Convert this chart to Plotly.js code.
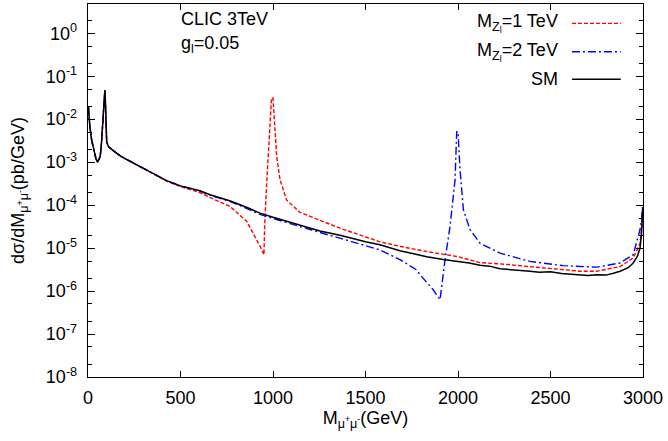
<!DOCTYPE html>
<html>
<head>
<meta charset="utf-8">
<script src="https://cdn.plot.ly/plotly-3.0.1.min.js"></script>
<style>html,body{margin:0;padding:0;background:#fff}#chart{width:668px;height:441px}</style>
</head>
<body>
<div id="chart"></div>
<script>
// SM (black)
const smMass = [2, 10, 20, 30, 43, 52, 60, 66, 73, 81, 86, 89, 91, 93, 96, 101, 110, 120, 140, 180, 245, 335, 425, 500, 605, 660, 770, 860, 930, 1000, 1146, 1254, 1362, 1450, 1500, 1578, 1686, 1760, 1831, 1920, 2000, 2060, 2119, 2170, 2227, 2300, 2350, 2389, 2440, 2500, 2560, 2600, 2660, 2700, 2750, 2800, 2840, 2876, 2920, 2947, 2970, 2984, 2992, 2998];
const smXsec = [0.020, 6.7e-3, 3.2e-3, 2.0e-3, 1.2e-3, 1.0e-3, 1.15e-3, 1.35e-3, 2.8e-3, 8e-3, 0.02, 0.038, 0.047, 0.035, 0.01, 3.0e-3, 2.3e-3, 2.1e-3, 1.8e-3, 1.35e-3, 9.5e-4, 6.0e-4, 3.7e-4, 2.8e-4, 2.15e-4, 1.74e-4, 1.25e-4, 8.8e-5, 6.5e-5, 5.2e-5, 3.4e-5, 2.5e-5, 2.0e-5, 1.6e-5, 1.4e-5, 1.2e-5, 8.7e-6, 7.4e-6, 6.3e-6, 5.4e-6, 4.9e-6, 4.5e-6, 4.0e-6, 3.8e-6, 3.3e-6, 3.15e-6, 3.0e-6, 2.9e-6, 2.75e-6, 2.8e-6, 2.55e-6, 2.45e-6, 2.4e-6, 2.3e-6, 2.4e-6, 2.35e-6, 2.6e-6, 2.9e-6, 3.5e-6, 4.5e-6, 6.5e-6, 1.0e-5, 2.2e-5, 8e-5];

// M_Z' = 1 TeV (red)
const z1Mass = [2, 10, 20, 30, 43, 52, 60, 66, 73, 81, 86, 89, 91, 93, 96, 101, 110, 120, 140, 180, 245, 335, 425, 500, 605, 659, 768, 858, 912, 935, 951, 955, 965, 975, 985, 992, 1000, 1011, 1020, 1038, 1074, 1146, 1254, 1362, 1578, 1686, 1831, 2000, 2119, 2227, 2389, 2500, 2660, 2750, 2876, 2947, 2984, 2992, 2998];
const z1Xsec = [0.020, 6.7e-3, 3.2e-3, 2.0e-3, 1.2e-3, 1.0e-3, 1.15e-3, 1.35e-3, 2.8e-3, 8e-3, 0.02, 0.038, 0.047, 0.035, 0.01, 3.0e-3, 2.3e-3, 2.1e-3, 1.8e-3, 1.35e-3, 9.5e-4, 6.0e-4, 3.6e-4, 2.7e-4, 1.95e-4, 1.5e-4, 9.3e-5, 4.2e-5, 1.56e-5, 1.0e-5, 7.0e-6, 3.5e-5, 2.8e-4, 2.1e-3, 0.017, 0.031, 0.031, 5.6e-3, 1.35e-3, 3.9e-4, 1.3e-4, 6.8e-5, 4.4e-5, 2.9e-5, 1.4e-5, 1.1e-5, 8.3e-6, 6.3e-6, 4.6e-6, 4.3e-6, 3.7e-6, 3.3e-6, 2.9e-6, 2.9e-6, 3.7e-6, 5.9e-6, 1.3e-5, 2.6e-5, 8.5e-5];

// M_Z' = 2 TeV (blue)
const z2Mass = [2, 10, 20, 30, 43, 52, 60, 66, 73, 81, 86, 89, 91, 93, 96, 101, 110, 120, 140, 180, 245, 335, 425, 500, 605, 660, 770, 860, 930, 1000, 1146, 1254, 1362, 1578, 1686, 1777, 1795, 1866, 1903, 1930, 1957, 1984, 1993, 2000, 2011, 2029, 2065, 2119, 2227, 2389, 2569, 2750, 2876, 2947, 2984, 2992, 2998];
const z2Xsec = [0.020, 6.7e-3, 3.2e-3, 2.0e-3, 1.2e-3, 1.0e-3, 1.15e-3, 1.35e-3, 2.8e-3, 8e-3, 0.02, 0.038, 0.047, 0.035, 0.01, 3.0e-3, 2.3e-3, 2.1e-3, 1.8e-3, 1.35e-3, 9.5e-4, 6.0e-4, 3.7e-4, 2.8e-4, 2.12e-4, 1.7e-4, 1.2e-4, 8.3e-5, 6.1e-5, 4.9e-5, 3.1e-5, 2.3e-5, 1.7e-5, 9.1e-6, 5.4e-6, 3.1e-6, 2.4e-6, 1.07e-6, 6.3e-7, 5.4e-6, 3.2e-5, 3.9e-4, 5.1e-3, 5.1e-3, 6.6e-4, 7.8e-5, 2.7e-5, 1.3e-5, 7.6e-6, 4.9e-6, 3.9e-6, 3.6e-6, 4.5e-6, 7.0e-6, 2.7e-5, 4.5e-5, 9e-5];

const seriesNames = ["M<sub>Z<sub>l</sub></sub>=1 TeV", "M<sub>Z<sub>l</sub></sub>=2 TeV", "SM"];
const xTickVals = [0, 500, 1000, 1500, 2000, 2500, 3000];
const yExponents = [-8, -7, -6, -5, -4, -3, -2, -1, 0];

const FONT = "Liberation Sans, Arial, sans-serif";
const red = "#ff0000", blue = "#0000ff", black = "#000000";

const traces = [
  {x: z1Mass, y: z1Xsec, mode: "lines", line: {color: red, width: 1.4, dash: "4px,2px"}, name: seriesNames[0], showlegend: false},
  {x: z2Mass, y: z2Xsec, mode: "lines", line: {color: blue, width: 1.4, dash: "8px,3px,2px,3px"}, name: seriesNames[1], showlegend: false},
  {x: smMass, y: smXsec, mode: "lines", line: {color: black, width: 1.5}, name: seriesNames[2], showlegend: false}
];

const yTickVals = yExponents.map(e => Math.pow(10, e));
const yTickText = yExponents.map(e => "10<sup>" + e + "</sup>");
const yMinor = [];
for (let e = -8; e <= 0; e++) { yMinor.push(2 * Math.pow(10, e)); yMinor.push(5 * Math.pow(10, e)); }

// legend drawn manually (line sample right of text)
const legY = [0.948, 0.872, 0.798];
const legStyles = [{color: red, width: 1.4, dash: "4px,2px"}, {color: blue, width: 1.4, dash: "8px,3px,2px,3px"}, {color: black, width: 1.5, dash: "solid"}];
const shapes = [], annotations = [];
for (let i = 0; i < 3; i++) {
  shapes.push({type: "line", xref: "paper", yref: "paper", x0: 0.872, x1: 0.960, y0: legY[i], y1: legY[i], line: legStyles[i]});
  annotations.push({xref: "paper", yref: "paper", x: 0.851, y: legY[i], xanchor: "right", yanchor: "middle", text: seriesNames[i], showarrow: false, font: {family: FONT, size: 18, color: "#000"}});
}
annotations.push({xref: "paper", yref: "paper", x: 0.166, y: 0.929, xanchor: "left", yanchor: "bottom", borderpad: 0, text: "CLIC 3TeV", showarrow: false, font: {family: FONT, size: 18, color: "#000"}});
annotations.push({xref: "paper", yref: "paper", x: 0.166, y: 0.925, xanchor: "left", yanchor: "top", borderpad: 0, text: "g<sub>l</sub>=0.05", showarrow: false, font: {family: FONT, size: 18, color: "#000"}});

const layout = {
  width: 668, height: 441,
  margin: {l: 88, r: 25, t: 4, b: 64},
  paper_bgcolor: "#fff", plot_bgcolor: "#fff",
  font: {family: FONT, size: 18, color: "#000"},
  showlegend: false,
  xaxis: {
    range: [0, 3000], tickmode: "array", tickvals: xTickVals, ticktext: xTickVals.map(String),
    ticks: "inside", ticklen: 6, tickwidth: 1, tickcolor: "#000", mirror: "allticks",
    showline: true, linecolor: "#000", linewidth: 1.3, showgrid: false, zeroline: false,
    ticklabelstandoff: 4,
    title: {text: "M<sub>μ<sup>+</sup>μ<sup>-</sup></sub>(GeV)", font: {family: FONT, size: 18}, standoff: 4}
  },
  yaxis: {
    type: "log", range: [-8, 0.68], tickmode: "array", tickvals: yTickVals, ticktext: yTickText,
    ticks: "inside", ticklen: 7, tickwidth: 1, tickcolor: "#000", mirror: "allticks",
    minor: {tickvals: yMinor, ticks: "inside", ticklen: 4, tickcolor: "#000", showgrid: false},
    showline: true, linecolor: "#000", linewidth: 1.3, showgrid: false, zeroline: false,
    ticklabelstandoff: 6,
    title: {text: "dσ/dM<sub>μ<sup>+</sup>μ<sup>-</sup></sub>(pb/GeV)", font: {family: FONT, size: 18}, standoff: 16}
  },
  shapes: shapes,
  annotations: annotations
};

Plotly.newPlot("chart", traces, layout, {staticPlot: true, displayModeBar: false});
</script>
</body>
</html>
